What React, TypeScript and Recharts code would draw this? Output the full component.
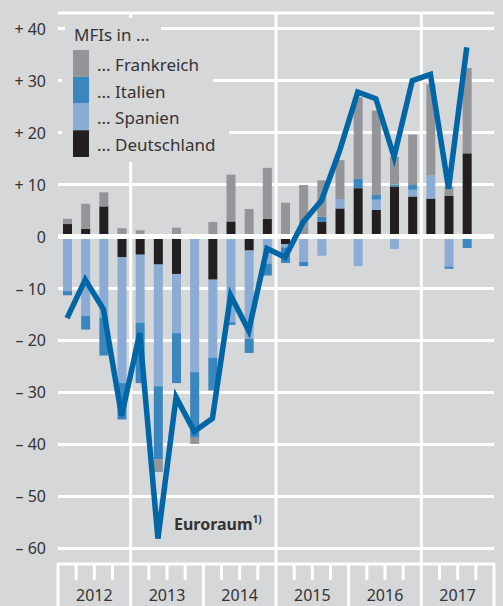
import React from "react"
import {
  ComposedChart,
  Bar,
  Line,
  XAxis,
  YAxis,
  CartesianGrid,
  ReferenceLine,
} from "recharts"

// quarters 2012 Q1 .. 2017 Q4 (last quarter has no data yet)
const quarters = [
  "2012Q1", "2012Q2", "2012Q3", "2012Q4",
  "2013Q1", "2013Q2", "2013Q3", "2013Q4",
  "2014Q1", "2014Q2", "2014Q3", "2014Q4",
  "2015Q1", "2015Q2", "2015Q3", "2015Q4",
  "2016Q1", "2016Q2", "2016Q3", "2016Q4",
  "2017Q1", "2017Q2", "2017Q3", "2017Q4",
]
const years = ["2012", "2013", "2014", "2015", "2016", "2017"]

const deutschland = [2.4, 1.5, 5.8, -4.0, -3.5, -5.4, -7.2, -0.4, -8.3, 2.9, -2.7, 3.4, -1.5, 0, 2.8, 5.4, 9.3, 5.1, 9.6, 7.7, 7.3, 7.8, 16.0]
const spanien = [-10.5, -15.3, -15.6, -24.2, -13.1, -23.4, -11.4, -25.7, -15.0, -16.5, -17.0, -5.2, -0.6, -4.9, -3.7, 1.8, -5.7, 2.0, -2.4, 1.3, 4.5, -5.8, 0]
const italien = [-0.8, -2.6, -7.3, -7.0, -11.6, -14.1, -9.6, -12.6, -6.3, -0.5, -2.7, -2.3, -3.0, -0.8, 1.0, 0, 1.8, 0.9, 0.4, 0.9, -0.5, -0.4, -2.2]
const frankreich = [1.0, 4.8, 2.7, 1.6, 1.2, -2.4, 1.7, -1.2, 2.8, 9.0, 5.3, 9.8, 6.5, 9.9, 7.0, 7.5, 15.7, 16.2, 5.3, 9.7, 17.5, 1.8, 16.4]
const euroraum = [-15.7, -8.3, -14.0, -34.5, -18.6, -58.1, -30.9, -37.5, -35.0, -11.3, -18.1, -2.3, -4.0, 2.8, 6.9, 16.5, 27.8, 26.5, 15.3, 30.0, 31.2, 9.2, 36.4]

const yTicks = [40, 30, 20, 10, 0, -10, -20, -30, -40, -50, -60]
const yearGrid = ["2013Q1", "2015Q1", "2017Q1"]

const BG = "#d6d7d9"
const COLORS = {
  frankreich: "#939598",
  italien: "#3a86bf",
  spanien: "#8aacd5",
  deutschland: "#231f20",
  euroraum: "#0066a6",
}
const FONT = "'Noto Sans', sans-serif"
const TEXT = "#333333"
const PLOT_BOTTOM = 564

const data = quarters.map((q, i) => ({
  q,
  deutschland: deutschland[i] ?? null,
  spanien: spanien[i] ?? null,
  italien: italien[i] ?? null,
  frankreich: frankreich[i] ?? null,
  euroraum: euroraum[i] ?? null,
}))

const fmtY = (v: number) =>
  v > 0 ? `+ ${v}` : v < 0 ? `\u2013 ${Math.abs(v)}` : "0"

const YTick = (props: any) => {
  const { y, payload } = props
  return (
    <text x={46} y={y + 6} textAnchor="end" fontSize={16} fill={TEXT} fontFamily={FONT}>
      {fmtY(payload.value)}
    </text>
  )
}

const edge = (x: number, long: boolean) => (
  <line
    x1={x}
    x2={x}
    y1={long ? PLOT_BOTTOM - 1 : PLOT_BOTTOM + 1}
    y2={long ? 606 : PLOT_BOTTOM + 16}
    stroke="#fff"
    strokeWidth={3}
  />
)

// quarter marks on band edges, long marks between years, year label mid-year
const XTick = (props: any) => {
  const { x, index, payload } = props
  const half = payload?.offset || 9.08
  const q = index % 4
  return (
    <g>
      {edge(x - half, q === 0)}
      {index === quarters.length - 1 && edge(x + half, true)}
      {q === 1 && (
        <text x={x + half} y={601} textAnchor="middle" fontSize={16} fill={TEXT} fontFamily={FONT}>
          {years[Math.floor(index / 4)]}
        </text>
      )}
    </g>
  )
}

const legendItems = [
  { key: "frankreich", label: "... Frankreich" },
  { key: "italien", label: "... Italien" },
  { key: "spanien", label: "... Spanien" },
  { key: "deutschland", label: "... Deutschland" },
]

export default function App() {
  return (
    <div style={{ position: "absolute", left: 0, top: 0, width: 503, height: 606, background: BG }}>
      <ComposedChart
        width={503}
        height={606}
        data={data}
        stackOffset="sign"
        margin={{ top: 13, right: 9, bottom: 0, left: 0 }}
      >
        <CartesianGrid vertical={false} stroke="#fff" strokeWidth={3} />
        <XAxis
          dataKey="q"
          interval={0}
          height={42}
          axisLine={false}
          tickLine={false}
          tick={<XTick />}
        />
        <YAxis
          domain={[-63, 43]}
          ticks={yTicks}
          interval={0}
          width={58}
          axisLine={false}
          tickLine={false}
          tick={<YTick />}
        />
        {yearGrid.map((v) => (
          <ReferenceLine key={v} x={v} position="start" stroke="#fff" strokeWidth={3} />
        ))}
        <Bar dataKey="deutschland" stackId="a" fill={COLORS.deutschland} barSize={9} isAnimationActive={false} />
        <Bar dataKey="spanien" stackId="a" fill={COLORS.spanien} barSize={9} isAnimationActive={false} />
        <Bar dataKey="italien" stackId="a" fill={COLORS.italien} barSize={9} isAnimationActive={false} />
        <Bar dataKey="frankreich" stackId="a" fill={COLORS.frankreich} barSize={9} isAnimationActive={false} />
        <ReferenceLine y={0} stroke="#fff" strokeWidth={5} />
        <Line
          dataKey="euroraum"
          type="linear"
          stroke={COLORS.euroraum}
          strokeWidth={5.5}
          dot={false}
          isAnimationActive={false}
        />
      </ComposedChart>

      <svg
        width={503}
        height={606}
        style={{ position: "absolute", left: 0, top: 0, pointerEvents: "none" }}
      >
        {/* legend background patches hiding the grid */}
        <rect x={65} y={18} width={96} height={32} fill={BG} />
        <rect x={62} y={48} width={151} height={56} fill={BG} />
        <rect x={62} y={103} width={167} height={59} fill={BG} />
        <text x={74} y={41} fontSize={17} fill={TEXT} fontFamily={FONT}>
          MFIs in ...
        </text>
        {legendItems.map((it, i) => (
          <g key={it.key}>
            <rect
              x={73}
              y={50 + i * 26.75}
              width={16}
              height={26.75}
              fill={COLORS[it.key as keyof typeof COLORS]}
            />
            <text x={97} y={71 + i * 26.5} fontSize={17} fill={TEXT} fontFamily={FONT}>
              {it.label}
            </text>
          </g>
        ))}
        <text x={174} y={530} fontSize={16} fontWeight="bold" fill={TEXT} fontFamily={FONT}>
          Euroraum
          <tspan fontSize={10} dy={-7}>1)</tspan>
        </text>
      </svg>
    </div>
  )
}
